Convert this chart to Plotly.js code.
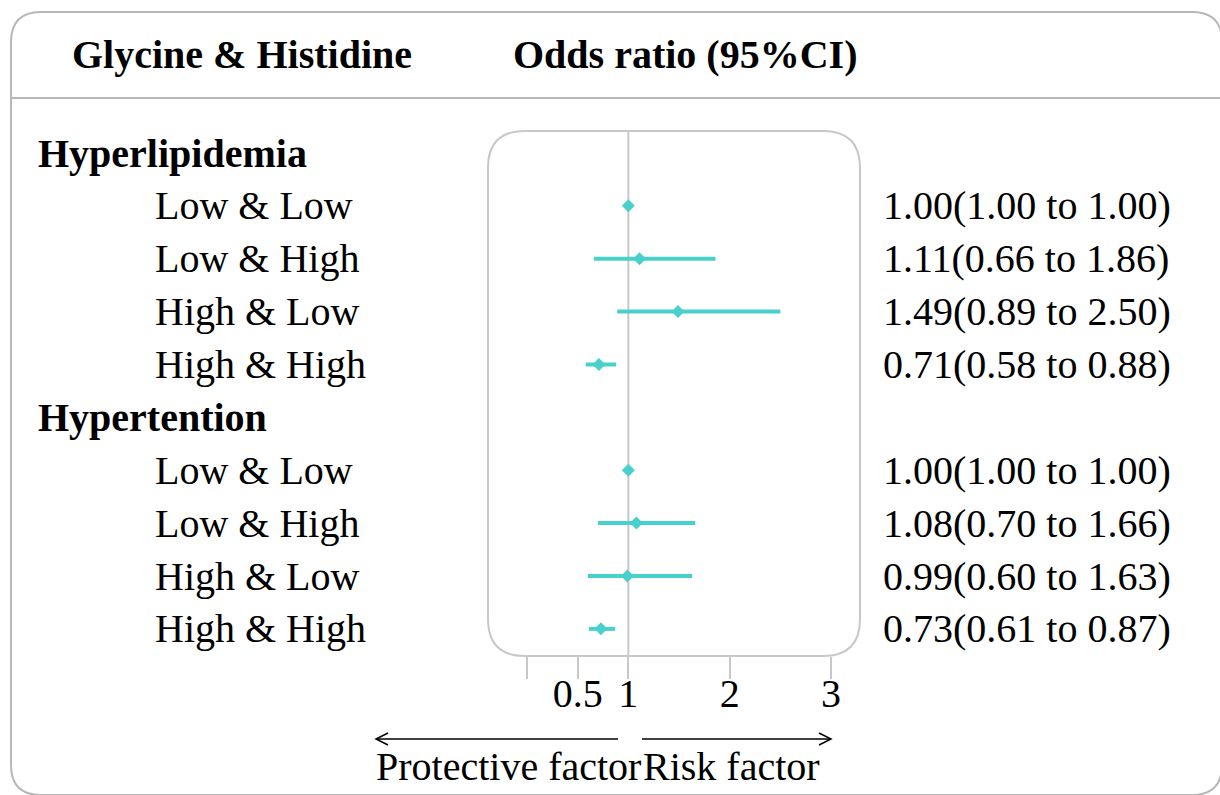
<!DOCTYPE html>
<html><head><meta charset="utf-8">
<script src="https://cdn.plot.ly/plotly-3.0.1.min.js"></script>
<style>html,body{margin:0;padding:0;background:#fff;overflow:hidden}</style>
</head><body><div id="chart" style="width:1220px;height:795px"></div>
<script>
// ---- data ----
const headerLeft = 'Glycine & Histidine';
const headerRight = 'Odds ratio (95%CI)';
const groups = ['Hyperlipidemia', 'Hypertention'];
const subgroups = ['Low & Low', 'Low & High', 'High & Low', 'High & High'];
const orHyperlipidemia = [1.00, 1.11, 1.49, 0.71];
const lowerHyperlipidemia = [1.00, 0.66, 0.89, 0.58];
const upperHyperlipidemia = [1.00, 1.86, 2.50, 0.88];
const orHypertention = [1.00, 1.08, 0.99, 0.73];
const lowerHypertention = [1.00, 0.70, 0.60, 0.61];
const upperHypertention = [1.00, 1.66, 1.63, 0.87];
const tickValues = [0, 0.5, 1, 2, 3];
const tickLabels = ['', '0.5', '1', '2', '3'];
const leftArrowLabel = 'Protective factor';
const rightArrowLabel = 'Risk factor';

const seriesOR = [orHyperlipidemia, orHypertention];
const seriesLo = [lowerHyperlipidemia, lowerHypertention];
const seriesHi = [upperHyperlipidemia, upperHypertention];

// ---- layout geometry (pixels) ----
const W0 = 1220, H0 = 795;
const L = 488, R = 860, T = 131, B = 656;
const PW = R - L, PH = B - T;
const px = X => (X - L) / PW;
const py = Y => (B - Y) / PH;
const FONT = 'Liberation Serif, Times New Roman, serif';
const TEAL = '#48D1CC';
const GREY = '#c8c8c8';

function roundRect(x0, y0, x1, y1, r) {
  const f = (X, Y) => px(X).toFixed(5) + ',' + py(Y).toFixed(5);
  return 'M' + f(x0 + r, y0) + ' L' + f(x1 - r, y0) + ' Q' + f(x1, y0) + ' ' + f(x1, y0 + r) +
    ' L' + f(x1, y1 - r) + ' Q' + f(x1, y1) + ' ' + f(x1 - r, y1) +
    ' L' + f(x0 + r, y1) + ' Q' + f(x0, y1) + ' ' + f(x0, y1 - r) +
    ' L' + f(x0, y0 + r) + ' Q' + f(x0, y0) + ' ' + f(x0 + r, y0) + ' Z';
}
function pathPx(points) {
  return points.map((p, i) => (i ? 'L' : 'M') + px(p[0]).toFixed(5) + ',' + py(p[1]).toFixed(5)).join(' ');
}

const traces = [];
const annotations = [];
groups.forEach((g, gi) => {
  const base = gi * 5;
  annotations.push({xref: 'paper', yref: 'y', x: px(36), y: base, xanchor: 'left', yanchor: 'middle',
    text: '<b>' + g + '</b>', showarrow: false, font: {family: FONT, size: 40, color: '#000'}});
  const ys = subgroups.map((s, i) => base + 1 + i);
  subgroups.forEach((s, i) => {
    annotations.push({xref: 'paper', yref: 'y', x: px(153), y: ys[i], xanchor: 'left', yanchor: 'middle',
      text: s, showarrow: false, font: {family: FONT, size: 40, color: '#000'}});
    const o = seriesOR[gi][i], lo = seriesLo[gi][i], hi = seriesHi[gi][i];
    annotations.push({xref: 'paper', yref: 'y', x: px(881), y: ys[i], xanchor: 'left', yanchor: 'middle',
      text: o.toFixed(2) + '(' + lo.toFixed(2) + ' to ' + hi.toFixed(2) + ')', showarrow: false,
      font: {family: FONT, size: 40, color: '#000'}});
  });
  traces.push({
    type: 'scatter', mode: 'markers', x: seriesOR[gi], y: ys,
    marker: {symbol: 'diamond', size: 10, color: TEAL, line: {width: 0}},
    error_x: {type: 'data', symmetric: false,
      array: seriesOR[gi].map((o, i) => seriesHi[gi][i] - o),
      arrayminus: seriesOR[gi].map((o, i) => o - seriesLo[gi][i]),
      color: TEAL, thickness: 4, width: 0},
    hoverinfo: 'skip', showlegend: false, cliponaxis: false
  });
});

// headers
annotations.push({xref: 'paper', yref: 'paper', x: px(70), y: py(55), xanchor: 'left', yanchor: 'middle',
  text: '<b>' + headerLeft + '</b>', showarrow: false, font: {family: FONT, size: 40, color: '#000'}});
annotations.push({xref: 'paper', yref: 'paper', x: px(511), y: py(55), xanchor: 'left', yanchor: 'middle',
  text: '<b>' + headerRight + '</b>', showarrow: false, font: {family: FONT, size: 40, color: '#000'}});
// direction labels
annotations.push({xref: 'paper', yref: 'paper', x: px(643), y: py(766), xanchor: 'right', yanchor: 'middle',
  text: leftArrowLabel, showarrow: false, font: {family: FONT, size: 40, color: '#000'}});
annotations.push({xref: 'paper', yref: 'paper', x: px(641), y: py(766), xanchor: 'left', yanchor: 'middle',
  text: rightArrowLabel, showarrow: false, font: {family: FONT, size: 40, color: '#000'}});

const shapes = [
  // outer frame
  {type: 'path', xref: 'paper', yref: 'paper', path: roundRect(11, 12, 1222, 795, 30),
   line: {color: '#b8b8b8', width: 2}, fillcolor: 'rgba(0,0,0,0)', layer: 'below'},
  {type: 'line', xref: 'paper', yref: 'paper', x0: px(11), x1: px(1222), y0: py(98), y1: py(98),
   line: {color: '#b8b8b8', width: 2}, layer: 'below'},
  // inner panel
  {type: 'path', xref: 'paper', yref: 'paper', path: roundRect(488, 131, 860, 656, 37),
   line: {color: GREY, width: 2}, fillcolor: 'rgba(0,0,0,0)', layer: 'below'},
  // reference line at OR = 1
  {type: 'line', xref: 'x', yref: 'paper', x0: 1, x1: 1, y0: 1, y1: 0,
   line: {color: GREY, width: 2}, layer: 'below'},
  // arrows
  {type: 'path', xref: 'paper', yref: 'paper', path: pathPx([[618, 739], [376, 739]]), line: {color: '#000', width: 1.5}},
  {type: 'path', xref: 'paper', yref: 'paper', path: pathPx([[388, 733], [376, 739], [388, 745]]), line: {color: '#000', width: 1.5}},
  {type: 'path', xref: 'paper', yref: 'paper', path: pathPx([[642, 739], [831, 739]]), line: {color: '#000', width: 1.5}},
  {type: 'path', xref: 'paper', yref: 'paper', path: pathPx([[819, 733], [831, 739], [819, 745]]), line: {color: '#000', width: 1.5}}
];

// x scale: 0 -> 527px, 3 -> 831px
const x0px = 527, x3px = 831;
const xPer = (x3px - x0px) / 3;
const xr = [(L - x0px) / xPer, (R - x0px) / xPer];
const rowPx = 52.875, row0 = 153;
const yr = [(B - row0) / rowPx, (T - row0) / rowPx];

const layout = {
  width: W0, height: H0,
  margin: {l: L, r: W0 - R, t: T, b: H0 - B, pad: 0},
  paper_bgcolor: '#fff', plot_bgcolor: 'rgba(0,0,0,0)',
  showlegend: false,
  xaxis: {range: xr, showgrid: false, zeroline: false, showline: false,
    tickmode: 'array', tickvals: tickValues, ticktext: tickLabels,
    ticks: 'outside', ticklen: 22, tickwidth: 2, tickcolor: GREY, ticklabelstandoff: -20,
    tickfont: {family: FONT, size: 40, color: '#000'}, fixedrange: true},
  yaxis: {range: yr, visible: false, fixedrange: true},
  shapes: shapes,
  annotations: annotations
};
Plotly.newPlot('chart', traces, layout, {displayModeBar: false, staticPlot: true});
</script>
</body></html>
